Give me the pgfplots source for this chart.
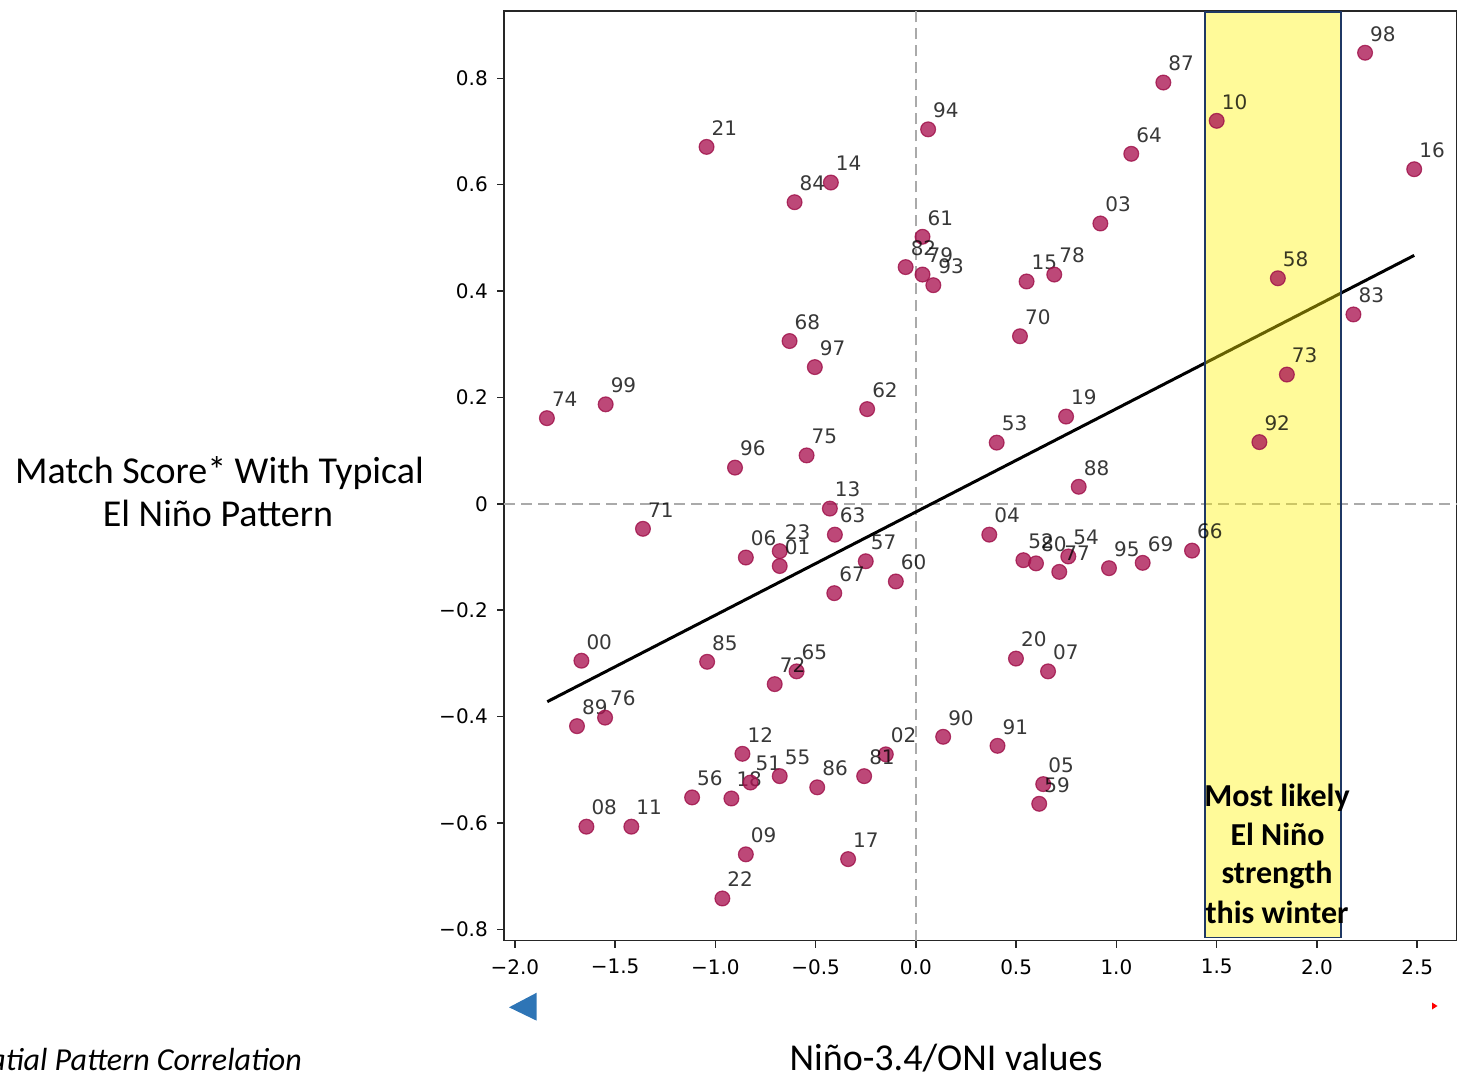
\documentclass[border=0pt]{standalone}
\usepackage{pgfplots}
\usepackage{pgfplotstable}
\pgfplotsset{compat=1.18}
\usepackage{fontspec}
\setmainfont{Carlito}
\newfontfamily\dejavu{DejaVu Sans}
\definecolor{ptcol}{RGB}{171,20,82}
\definecolor{ptedge}{RGB}{158,15,72}
\definecolor{navybox}{RGB}{31,56,100}
\definecolor{dashgray}{RGB}{170,170,170}
\definecolor{tri}{RGB}{46,117,182}

\pgfplotstableread{
x y label
-1.044 0.671 21
0.061 0.704 94
-0.424 0.604 14
-0.605 0.567 84
0.033 0.502 61
-0.051 0.445 82
0.033 0.431 79
0.087 0.411 93
-0.630 0.306 68
-0.504 0.257 97
-0.243 0.178 62
-1.840 0.161 74
-1.547 0.187 99
-0.545 0.091 75
-0.902 0.068 96
1.234 0.792 87
1.500 0.720 10
2.240 0.848 98
1.074 0.658 64
2.485 0.629 16
0.920 0.527 03
0.552 0.418 15
0.690 0.431 78
1.805 0.424 58
2.182 0.356 83
0.519 0.315 70
1.850 0.243 73
0.749 0.164 19
0.403 0.115 53
1.713 0.116 92
-0.429 -0.009 13
-1.361 -0.047 71
-0.404 -0.058 63
-0.848 -0.101 06
-0.679 -0.089 23
-0.679 -0.117 01
-0.250 -0.108 57
-0.100 -0.146 60
-0.407 -0.168 67
-1.668 -0.295 00
-1.041 -0.297 85
-0.595 -0.315 65
-0.704 -0.339 72
-1.690 -0.418 89
-1.550 -0.402 76
0.136 -0.438 90
-0.865 -0.470 12
-0.150 -0.471 02
-0.258 -0.512 81
-0.920 -0.554 18
-0.825 -0.524 51
-0.679 -0.512 55
-0.492 -0.533 86
-1.116 -0.552 56
-1.643 -0.607 08
-1.419 -0.607 11
-0.848 -0.659 09
-0.338 -0.668 17
-0.965 -0.742 22
0.812 0.032 88
0.366 -0.058 04
0.536 -0.106 52
0.599 -0.112 80
0.760 -0.099 54
0.715 -0.128 77
0.963 -0.121 95
1.131 -0.111 69
1.377 -0.088 66
0.499 -0.291 20
0.659 -0.315 07
0.407 -0.455 91
0.635 -0.527 05
0.615 -0.564 59
}\datatable

\begin{document}
\begin{tikzpicture}
\useasboundingbox (0pt,0pt) rectangle (1458pt,1077pt);
\begin{axis}[
  at={(504pt,136.5pt)}, anchor=south west,
  scale only axis, width=952.5pt, height=929.5pt,
  xmin=-2.054, xmax=2.696, ymin=-0.821, ymax=0.9265,
  axis line style={black!85, line width=1.5pt},
  tick style={black!85, line width=1.5pt},
  tick align=outside, major tick length=7pt,
  xtick={-2,-1.5,-1,-0.5,0,0.5,1,1.5,2,2.5},
  xticklabels={−2.0,−1.5,−1.0,−0.5,0.0,0.5,1.0,1.5,2.0,2.5},
  ytick={-0.8,-0.6,-0.4,-0.2,0,0.2,0.4,0.6,0.8},
  yticklabels={−0.8,−0.6,−0.4,−0.2,0,0.2,0.4,0.6,0.8},
  xtick pos=bottom, ytick pos=left,
  ticklabel style={font=\dejavu\fontsize{20}{23}\selectfont, inner sep=0pt},
  xticklabel style={anchor=north, yshift=-11.5pt},
  yticklabel style={anchor=east, xshift=-9pt},
  clip=false,
]
\addplot[dashgray, line width=1.7pt, dash pattern=on 11pt off 6pt] coordinates {(0,-0.821) (0,0.9265)};
\addplot[dashgray, line width=1.7pt, dash pattern=on 11pt off 6pt] coordinates {(-2.054,0) (2.696,0)};
\addplot[only marks, mark=*, mark size=7.4pt,
  mark options={fill=ptcol, draw=ptedge, line width=1.2pt, fill opacity=0.78, draw opacity=0.8},
  nodes near coords, point meta=explicit symbolic,
  nodes near coords style={anchor=base west, inner sep=0pt, xshift=4.5pt, yshift=11.7pt,
    font=\dejavu\fontsize{20}{23}\selectfont, text=black}]
  table[x=x, y=y, meta=label] {\datatable};
\addplot[black, line width=3pt] coordinates {(-1.838,-0.372) (2.485,0.467)};
\addplot[draw=navybox, line width=1.6pt, fill=yellow, fill opacity=0.4]
  coordinates {(1.442,-0.815) (2.119,-0.815) (2.119,0.9246) (1.442,0.9246)} -- cycle;
\end{axis}
\begin{scope}[font=\bfseries\fontsize{32}{38}\selectfont]
\node[anchor=base, inner sep=0pt] at (1277pt,270.3pt) {Most likely};
\node[anchor=base, inner sep=0pt] at (1277.5pt,231.3pt) {El Niño};
\node[anchor=base, inner sep=0pt] at (1277pt,193.7pt) {strength};
\node[anchor=base, inner sep=0pt] at (1277pt,153.7pt) {this winter};
\end{scope}
\begin{scope}[font=\fontsize{38}{44}\selectfont]
\node[anchor=base, inner sep=0pt] at (219.5pt,593.7pt) {Match Score* With Typical};
\node[anchor=base, inner sep=0pt] at (218pt,550.3pt) {El Niño Pattern};
\node[anchor=base, inner sep=0pt] at (946pt,7pt) {Niño-3.4/ONI values};
\node[anchor=base east, inner sep=0pt, font=\itshape\fontsize{32}{38}\selectfont] at (302pt,7pt) {*Spatial Pattern Correlation};
\end{scope}
\fill[tri] (509pt,69.7pt) -- (536.7pt,84.3pt) -- (536.7pt,56.3pt) -- cycle;
\fill[red] (1437.5pt,71pt) -- (1432pt,74.5pt) -- (1432pt,67.5pt) -- cycle;
\end{tikzpicture}
\end{document}
